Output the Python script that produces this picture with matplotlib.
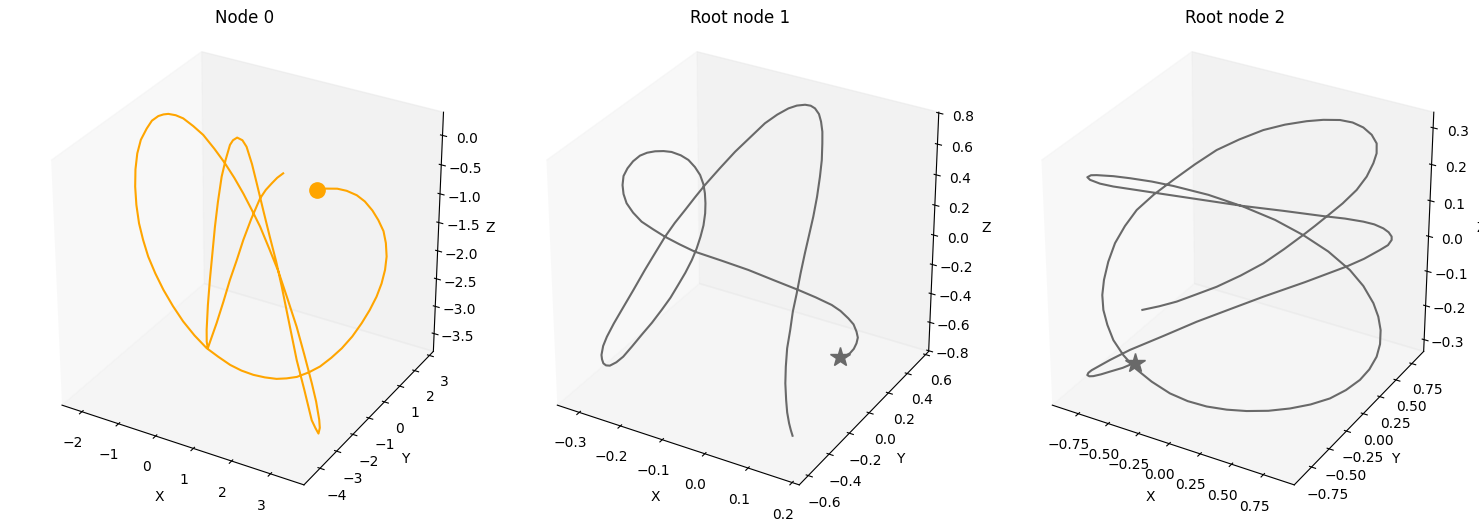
import matplotlib
matplotlib.use('Agg')
import matplotlib.pyplot as plt
from mpl_toolkits.mplot3d import Axes3D

titles = ['Node 0', 'Root node 1', 'Root node 2']
colors = ['orange', 'dimgray', 'dimgray']
markers = ['o', '*', '*']
marker_sizes = [11, 15, 15]

x0 = [1.77,1.86,1.95,2.16,2.34,2.56,2.73,2.89,3.01,3.13,3.18,3.21,3.18,3.12,3.02,2.89,2.73,2.57,2.38,2.23,2.06,1.91,1.74,1.55,1.37,1.08,.79,.47,.16,-.12,-.39,-.67,-.93,-1.18,-1.41,-1.60,-1.76,-1.89,-1.99,-2.05,-2.07,-2.05,-1.99,-1.96,-1.87,-1.80,-1.70,-1.61,-1.53,-1.38,-1.23,-.99,-.75,-.48,-.23,.04,.30,.57,.83,1.16,1.49,1.84,2.19,2.57,2.94,3.14,3.31,3.37,3.38,3.28,3.16,2.90,2.63,2.30,1.97,1.67,1.35,1.00,.65,.37,.07,-.13,-.36,-.54,-.69,-.81,-.92,-.98,-1.02,-.98,-.94,-.86,-.76,-.62,-.45,-.44,-.39,-.27,-.16,-.04,.07,.26,.47,.60,.73,.94,1.16]
y0 = [.5,.6,.7,.85,1.0,1.1,1.2,1.3,1.4,1.45,1.5,1.5,1.5,1.45,1.4,1.3,1.2,1.0,.8,.5,.2,-.15,-.5,-.7,-.9,-.95,-1.0,-1.0,-1.0,-1.1,-1.2,-1.3,-1.4,-1.45,-1.5,-1.55,-1.6,-1.6,-1.6,-1.6,-1.6,-1.6,-1.6,-1.45,-1.3,-1.15,-1.0,-.9,-.8,-.7,-.6,-.55,-.5,-.45,-.4,-.45,-.5,-.6,-.7,-.9,-1.1,-1.35,-1.6,-2.0,-2.4,-2.6,-2.8,-2.9,-3.0,-2.95,-2.9,-2.75,-2.6,-2.3,-2.0,-1.65,-1.3,-.9,-.5,-.15,.2,.4,.6,.75,.9,.9,.9,.8,.7,.45,.2,-.1,-.4,-.7,-1.0,-.8,-.6,-.45,-.3,-.15,0,.05,.1,.15,.2,.05,-.1]
z0 = [-.63,-.62,-.63,-.63,-.67,-.73,-.83,-.98,-1.15,-1.33,-1.54,-1.77,-2.01,-2.25,-2.49,-2.73,-2.97,-3.19,-3.39,-3.51,-3.62,-3.66,-3.68,-3.69,-3.68,-3.70,-3.70,-3.69,-3.65,-3.53,-3.40,-3.20,-2.97,-2.73,-2.47,-2.20,-1.92,-1.65,-1.38,-1.07,-.76,-.46,-.18,.02,.19,.30,.36,.38,.38,.36,.31,.21,.09,-.11,-.32,-.51,-.72,-.93,-1.14,-1.41,-1.69,-2.03,-2.38,-2.69,-3.00,-3.22,-3.45,-3.55,-3.62,-3.56,-3.46,-3.03,-2.60,-2.11,-1.62,-1.34,-1.07,-.78,-.48,-.29,-.13,-.10,-.14,-.25,-.39,-.67,-.98,-1.41,-1.83,-2.24,-2.65,-3.01,-3.36,-3.47,-3.47,-3.33,-3.11,-2.74,-2.37,-2.03,-1.69,-1.30,-.92,-.76,-.64,-.47,-.32]

x1 = [.078,.087,.095,.104,.110,.115,.116,.113,.105,.093,.079,.053,.024,-.023,-.070,-.123,-.177,-.207,-.235,-.258,-.280,-.296,-.307,-.311,-.310,-.307,-.297,-.286,-.272,-.259,-.244,-.228,-.213,-.194,-.179,-.164,-.152,-.142,-.136,-.131,-.128,-.127,-.129,-.132,-.137,-.146,-.157,-.169,-.184,-.201,-.220,-.238,-.255,-.268,-.280,-.288,-.293,-.296,-.297,-.295,-.288,-.277,-.264,-.244,-.225,-.211,-.197,-.184,-.170,-.158,-.146,-.126,-.106,-.091,-.079,-.070,-.061,-.051,-.039,-.026,-.016,-.002,.010,.018,.023,.027,.028,.029,.028,.027,.026,.026,.027,.029,.034,.038,.046,.056,.069,.086,.105,.121,.137]
y1 = [.30,.32,.33,.33,.33,.32,.30,.28,.26,.23,.20,.15,.10,.05,0,-.04,-.08,-.105,-.13,-.15,-.17,-.185,-.2,-.21,-.22,-.22,-.22,-.21,-.2,-.185,-.17,-.155,-.14,-.13,-.12,-.12,-.12,-.13,-.14,-.155,-.17,-.19,-.21,-.235,-.26,-.285,-.31,-.335,-.36,-.385,-.41,-.43,-.45,-.465,-.48,-.485,-.49,-.49,-.49,-.48,-.47,-.445,-.42,-.385,-.35,-.31,-.27,-.23,-.19,-.145,-.10,-.04,.02,.1,.19,.27,.34,.38,.41,.41,.41,.39,.36,.34,.32,.3,.28,.25,.22,.185,.15,.11,.07,.025,-.02,-.065,-.11,-.155,-.2,-.26,-.32,-.37,-.42]
z1 = [-.747,-.741,-.724,-.685,-.641,-.590,-.535,-.474,-.427,-.367,-.319,-.258,-.201,-.142,-.082,-.039,.002,.042,.085,.128,.173,.229,.291,.354,.419,.480,.537,.585,.626,.646,.658,.663,.660,.647,.623,.589,.547,.502,.453,.401,.347,.281,.218,.152,.088,.013,-.062,-.141,-.220,-.304,-.387,-.467,-.540,-.580,-.604,-.606,-.593,-.568,-.539,-.482,-.420,-.336,-.250,-.121,.006,.103,.199,.276,.347,.413,.476,.566,.652,.711,.761,.780,.789,.793,.791,.794,.784,.768,.744,.696,.636,.542,.446,.333,.219,.117,.016,-.093,-.202,-.295,-.387,-.478,-.567,-.642,-.714,-.742,-.757,-.753,-.741]

x2 = [-.517,-.572,-.633,-.676,-.708,-.721,-.724,-.721,-.699,-.617,-.526,-.343,-.160,.022,.205,.415,.621,.695,.753,.775,.768,.757,.737,.699,.646,.579,.473,.347,.134,-.075,-.262,-.450,-.556,-.661,-.708,-.727,-.721,-.691,-.659,-.571,-.491,-.382,-.273,-.088,.101,.277,.435,.563,.674,.747,.805,.837,.854,.863,.854,.844,.828,.796,.749,.666,.567,.450,.333,.201,.068,-.087,-.233,-.358,-.466,-.537,-.597,-.623,-.639,-.644,-.626,-.613,-.580,-.548,-.508,-.443,-.367,-.265,-.170,-.078,.026,.124,.229,.311,.395,.463,.517,.569,.600,.612,.604,.590,.555,.504,.443,.400,.352,.255,.146,.009,-.146,-.281,-.417,-.531,-.643]
y2 = [-.6,-.68,-.75,-.8,-.85,-.88,-.9,-.89,-.88,-.77,-.65,-.5,-.35,-.2,-.05,.17,.4,.52,.65,.73,.8,.82,.81,.8,.76,.72,.64,.55,.35,.15,-.08,-.3,-.45,-.6,-.69,-.78,-.82,-.82,-.8,-.73,-.65,-.55,-.45,-.3,-.15,-.02,.1,.23,.35,.42,.47,.49,.5,.48,.45,.36,.25,.1,-.05,-.18,-.3,-.4,-.5,-.55,-.6,-.6,-.6,-.64,-.68,-.72,-.75,-.78,-.8,-.8,-.8,-.76,-.72,-.64,-.55,-.43,-.3,-.18,-.05,.1,.25,.38,.5,.59,.68,.74,.8,.83,.85,.83,.8,.73,.65,.54,.42,.33,.25,.15,.05,-.03,-.1,-.15,-.2,-.25,-.3]
z2 = [-.237,-.243,-.247,-.250,-.249,-.245,-.238,-.233,-.225,-.208,-.192,-.161,-.129,-.102,-.075,-.052,-.028,-.020,-.012,-.010,-.008,-.003,.009,.018,.031,.039,.051,.061,.089,.116,.153,.188,.213,.238,.256,.279,.293,.301,.301,.295,.284,.269,.251,.220,.181,.140,.093,.038,-.024,-.074,-.126,-.165,-.204,-.240,-.272,-.293,-.304,-.308,-.308,-.309,-.308,-.308,-.302,-.303,-.299,-.301,-.295,-.267,-.233,-.195,-.153,-.107,-.063,-.022,.022,.066,.113,.149,.181,.209,.234,.266,.292,.305,.316,.319,.319,.316,.309,.299,.281,.261,.237,.214,.191,.164,.137,.113,.091,.076,.060,.028,-.005,-.039,-.074,-.100,-.126,-.142,-.155]

xs = [x0, x1, x2]
ys = [y0, y1, y2]
zs = [z0, z1, z2]
xlims = [(-2.55, 3.85), (-0.354, 0.216), (-0.97, 0.99)]
ylims = [(-4.95, 3.27), (-0.685, 0.634), (-0.99, 0.94)]
zlims = [(-3.83, 0.39), (-0.805, 0.805), (-0.335, 0.342)]
centers = [244.5, 739.8, 1234.8]
W, H = 1479, 532
S = 469.5
fig = plt.figure(figsize=(W/100, H/100), dpi=100)
for t, col, mk, ms, x, y, z, xl, yl, zl, c in zip(titles, colors, markers, marker_sizes, xs, ys, zs, xlims, ylims, zlims, centers):
    ax = fig.add_axes([(c-S/2)/W, (H-266.5-S/2)/H, S/W, S/H], projection='3d')
    ax.set_box_aspect((1, 1, 1))
    ax.plot(x, y, z, color=col, lw=1.5, solid_joinstyle='round')
    ax.plot(x[:1], y[:1], z[:1], marker=mk, ms=ms, color=col, ls='none')
    ax.set_xlim(xl); ax.set_ylim(yl); ax.set_zlim(zl)
    ax.grid(False)
    ax.set_xlabel('X'); ax.set_ylabel('Y'); ax.set_zlabel('Z')
    ax.set_title(t)
fig.savefig('out.png', dpi=100)
